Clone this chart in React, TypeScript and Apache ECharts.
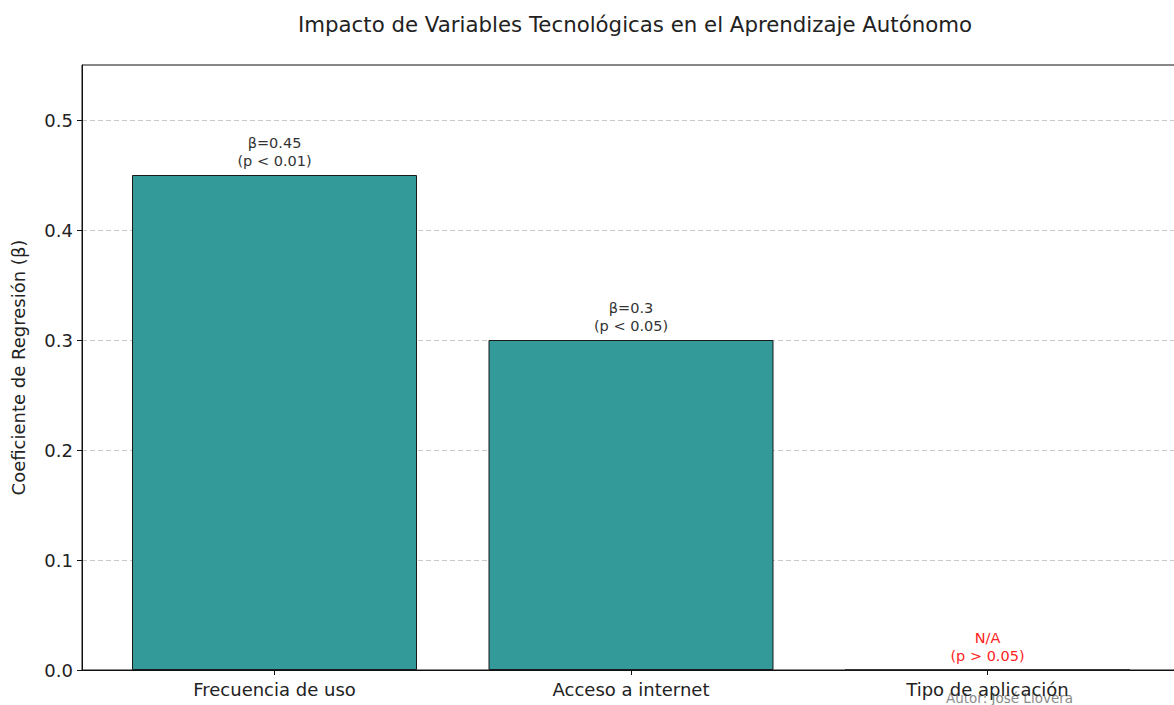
import React, { useEffect, useRef } from "react";
import * as echarts from "echarts";

const categories = ["Frecuencia de uso", "Acceso a internet", "Tipo de aplicación"];
const betaValues = [0.45, 0.3, 0];
const betaLabels = ["β=0.45", "β=0.3", "N/A"];
const pLabels = ["(p < 0.01)", "(p < 0.05)", "(p > 0.05)"];
const labelColors = ["#333333", "#333333", "#ff2222"];
const yTicks = [0, 0.1, 0.2, 0.3, 0.4, 0.5];

const FONT = "'DejaVu Sans', 'Noto Sans', sans-serif";

export default function App() {
  const ref = useRef<HTMLDivElement>(null);
  useEffect(() => {
    if (!ref.current) return;
    const chart = echarts.init(ref.current, null, { renderer: "svg" });
    const xIdx = categories.map((_, i) => i);
    chart.setOption({
      animation: false,
      backgroundColor: "#ffffff",
      textStyle: { fontFamily: FONT },
      title: {
        text: "Impacto de Variables Tecnológicas en el Aprendizaje Autónomo",
        left: 630,
        textAlign: "center",
        top: 9,
        textStyle: { fontFamily: FONT, fontSize: 21.3, fontWeight: "normal", color: "#222" },
      },
      grid: {
        left: 82,
        right: -6,
        top: 65,
        bottom: 35,
        outerBoundsMode: "none",
        containLabel: false,
        show: true,
        borderColor: "#111",
        borderWidth: 1,
        backgroundColor: "transparent",
      },
      xAxis: {
        type: "value",
        min: -0.54,
        max: 2.54,
        axisLine: { show: true, onZero: false, lineStyle: { color: "#111", width: 1 } },
        axisTick: { show: true, length: 5, customValues: xIdx, lineStyle: { color: "#111" } },
        axisLabel: {
          customValues: xIdx,
          formatter: (v: number) => categories[Math.round(v)] ?? "",
          fontFamily: FONT,
          fontSize: 18,
          color: "#222",
          margin: 10,
        },
        splitLine: { show: false },
      },
      yAxis: {
        type: "value",
        min: 0,
        max: 0.55,
        name: "Coeficiente de Regresión (β)",
        nameLocation: "middle",
        nameGap: 55,
        nameTextStyle: { fontFamily: FONT, fontSize: 18, color: "#222" },
        axisLine: { show: true, onZero: false, lineStyle: { color: "#111", width: 1 } },
        axisTick: { show: true, length: 5, customValues: yTicks, lineStyle: { color: "#111" } },
        axisLabel: {
          customValues: yTicks,
          formatter: (v: number) => v.toFixed(1),
          fontFamily: FONT,
          fontSize: 18,
          color: "#222",
          margin: 9,
        },
        splitLine: {
          show: true,
          lineStyle: { color: "#c8c8c8", type: [5, 3], width: 1 },
        },
      },
      series: [
        {
          type: "bar",
          barWidth: 285,
          data: betaValues.map((v, i) => ({
            value: [i, v],
            label: {
              show: true,
              position: "top",
              distance: 5,
              formatter: betaLabels[i] + "\n" + pLabels[i],
              fontFamily: FONT,
              fontSize: 14.5,
              lineHeight: 18,
              color: labelColors[i],
              align: "center",
            },
          })),
          itemStyle: { color: "#339999", borderColor: "#1a1a1a", borderWidth: 1 },
        },
      ],
      graphic: [
        {
          type: "text",
          left: 946,
          top: 691,
          style: { text: "Autor: José Llovera", fontFamily: FONT, fontSize: 13.5, fill: "#8a8a8a" },
        },
      ],
    });
    return () => chart.dispose();
  }, []);
  return (
    <div
      ref={ref}
      style={{ position: "fixed", left: 0, top: 0, width: 1174, height: 705, background: "#fff" }}
    />
  );
}
